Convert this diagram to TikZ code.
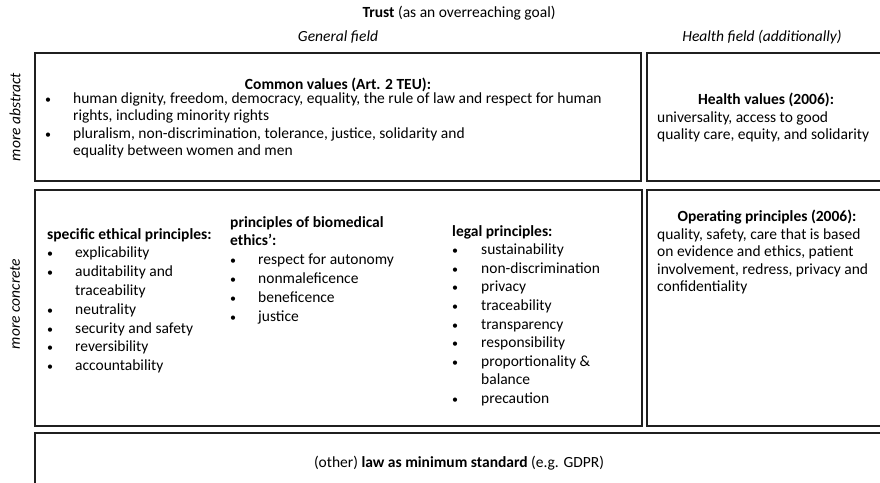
\documentclass[tikz,border=0pt]{standalone}
\usepackage{fontspec}
\setmainfont{Carlito}
\usepackage{array}
\usetikzlibrary{positioning}

\tikzset{
  frame/.style={draw=black!88, line width=2.6pt},
  field/.style={font=\fontsize{15.5}{18}\selectfont\itshape, inner sep=0pt},
  side/.style={font=\fontsize{15.5}{18}\selectfont\itshape, inner sep=0pt, rotate=90},
  head/.style={font=\fontsize{15.5}{18}\selectfont\bfseries, inner sep=0pt},
  plain/.style={font=\fontsize{15.5}{18}\selectfont, inner sep=0pt},
  list/.style={inner sep=0pt, anchor=base west}
}
\newcommand{\bul}{{\fontsize{12}{12}\selectfont\textbullet}}

\begin{document}
\begin{tikzpicture}[x=1pt,y=-1pt]
\useasboundingbox (0,0) rectangle (880,482);
\clip (0,0) rectangle (880,482);
% headings
\node[plain] (trust) at (459,13) {\textbf{Trust} (as an overreaching goal)};
\node[field] (general) at (338,37) {General field};
\node[field] (healthfield) at (762,37) {Health field (additionally)};
\node[side] (abstract) at (15,117) {more abstract};
\node[side] (concrete) at (15,304) {more concrete};
% boxes
\draw[frame] (35,53) rectangle (641,181);
\draw[frame] (647,53) rectangle (884,181);
\draw[frame] (35,190) rectangle (642,426);
\draw[frame] (647,190) rectangle (884,426);
\draw[frame] (35,433) rectangle (884,486);
% common values
\node[head] (common) at (338,85) {Common values (Art. 2 TEU):};
\node[list] (commonlist) at (45,103.5) {\fontsize{15.5}{17.4}\selectfont
  \begin{tabular}[t]{@{}p{28pt}@{}l@{}}
  \bul & human dignity, freedom, democracy, equality, the rule of law and respect for human\\
       & rights, including minority rights\\
  \bul & pluralism, non-discrimination, tolerance, justice, solidarity and\\
       & equality between women and men
  \end{tabular}};
% health values
\node[head] (healthval) at (766,100) {Health values (2006):};
\node[list] (healthtext) at (657,122) {\fontsize{15.5}{17}\selectfont
  \begin{tabular}[t]{@{}l@{}}
  universality, access to good\\
  quality care, equity, and solidarity
  \end{tabular}};
% specific ethical principles
\node[list] (ethical) at (47,239) {\fontsize{15.5}{18.8}\selectfont
  \begin{tabular}[t]{@{}p{28pt}@{}l@{}}
  \multicolumn{2}{@{}l@{}}{\textbf{specific ethical principles:}}\\
  \bul & explicability\\
  \bul & auditability and\\
       & traceability\\
  \bul & neutrality\\
  \bul & security and safety\\
  \bul & reversibility\\
  \bul & accountability
  \end{tabular}};
% biomedical ethics
\node[list] (biomed) at (230,227) {\fontsize{15.5}{18.8}\selectfont
  \begin{tabular}[t]{@{}p{28pt}@{}l@{}}
  \multicolumn{2}{@{}l@{}}{\textbf{principles of biomedical}}\\
  \multicolumn{2}{@{}l@{}}{\textbf{ethics':}}\\
  \bul & respect for autonomy\\
  \bul & nonmaleficence\\
  \bul & beneficence\\
  \bul & justice
  \end{tabular}};
% legal principles
\node[list] (legal) at (452,236) {\fontsize{15.5}{18.6}\selectfont
  \begin{tabular}[t]{@{}p{29pt}@{}l@{}}
  \multicolumn{2}{@{}l@{}}{\textbf{legal principles:}}\\
  \bul & sustainability\\
  \bul & non-discrimination\\
  \bul & privacy\\
  \bul & traceability\\
  \bul & transparency\\
  \bul & responsibility\\
  \bul & proportionality \&\\
       & balance\\
  \bul & precaution
  \end{tabular}};
% operating principles
\node[head] (operating) at (767,217) {Operating principles (2006):};
\node[list] (optext) at (657,239) {\fontsize{15.5}{17.5}\selectfont
  \begin{tabular}[t]{@{}l@{}}
  quality, safety, care that is based\\
  on evidence and ethics, patient\\
  involvement, redress, privacy and\\
  confidentiality
  \end{tabular}};
% law
\node[plain] (law) at (459,463) {(other) \textbf{law as minimum standard} (e.g. GDPR)};
\end{tikzpicture}
\end{document}
